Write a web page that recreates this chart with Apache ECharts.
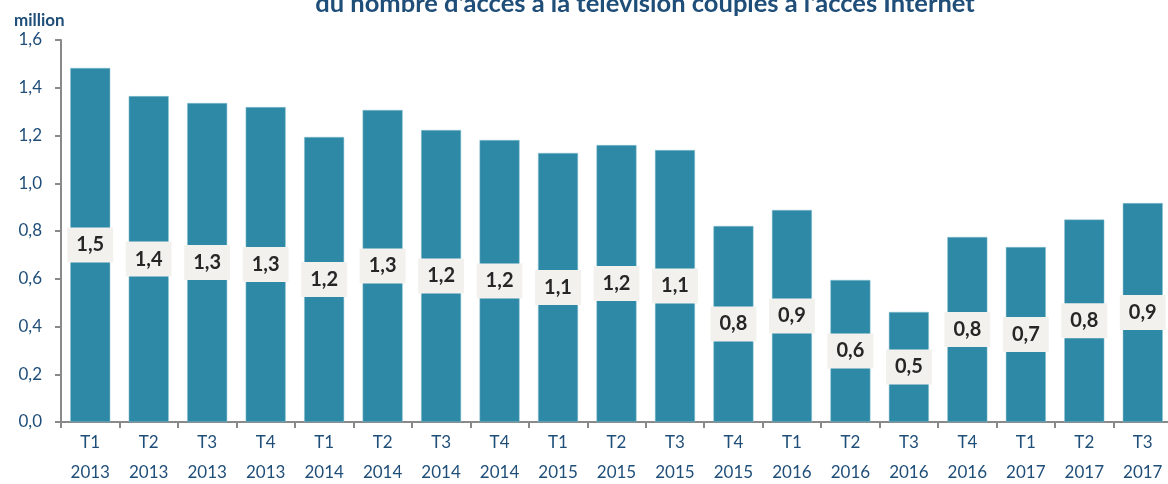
<!DOCTYPE html>
<html>
<head>
<meta charset="utf-8">
<style>
html,body{margin:0;padding:0;background:#fff;}
#chart{width:1168px;height:484px;}
</style>
<script src="https://cdn.jsdelivr.net/npm/echarts@6/dist/echarts.min.js"></script>
</head>
<body>
<div id="chart"></div>
<script>
const categories = ["T1\n2013","T2\n2013","T3\n2013","T4\n2013","T1\n2014","T2\n2014","T3\n2014","T4\n2014","T1\n2015","T2\n2015","T3\n2015","T4\n2015","T1\n2016","T2\n2016","T3\n2016","T4\n2016","T1\n2017","T2\n2017","T3\n2017"];
const values = [1.483,1.365,1.336,1.319,1.194,1.307,1.223,1.181,1.127,1.160,1.139,0.821,0.888,0.595,0.461,0.775,0.733,0.848,0.917];
const titleText = "du nombre d'accès à la télévision couplés à l'accès Internet";
const unitText = "million";

const FONT = 'Lato';
const BLUE = '#1f4e79';
const chart = echarts.init(document.getElementById('chart'));
chart.setOption({
  animation: false,
  textStyle: {fontFamily: FONT},
  title: [
    {text: titleText, left: 640, textAlign: 'center', top: -14,
     textStyle: {fontFamily: FONT, fontWeight: 'bold', fontSize: 25.5, color: BLUE}},
    {text: unitText, left: 9, top: 7,
     textStyle: {fontFamily: FONT, fontWeight: 'bold', fontSize: 17, color: BLUE}}
  ],
  grid: {left: 61, width: 1111, top: 40, height: 382, outerBoundsMode: 'none', containLabel: false},
  xAxis: {
    type: 'category',
    data: categories,
    axisLine: {lineStyle: {color: '#898989', width: 2}},
    axisTick: {show: true, length: 6, lineStyle: {color: '#898989', width: 2}},
    axisLabel: {color: BLUE, fontSize: 17, lineHeight: 30, margin: 6, fontFamily: FONT}
  },
  yAxis: {
    type: 'value', min: 0, max: 1.6, interval: 0.2,
    splitLine: {show: false},
    axisLine: {show: true, lineStyle: {color: '#898989', width: 2}},
    axisTick: {show: true, length: 6, lineStyle: {color: '#898989', width: 2}},
    axisLabel: {color: BLUE, fontSize: 17, margin: 19, fontFamily: FONT,
      formatter: v => v.toFixed(1).replace('.', ',')}
  },
  series: [{
    type: 'bar',
    data: values,
    barWidth: 40,
    itemStyle: {color: '#2d89a5', borderColor: '#8cc3d3', borderWidth: 0.5},
    label: {
      show: true, position: 'inside',
      formatter: p => p.value.toFixed(1).replace('.', ','),
      fontFamily: FONT, fontWeight: 'bold', fontSize: 20, color: '#262626',
      backgroundColor: '#f2f1ee', padding: [8, 9, 7, 9]
    }
  }]
});
</script>
</body>
</html>
